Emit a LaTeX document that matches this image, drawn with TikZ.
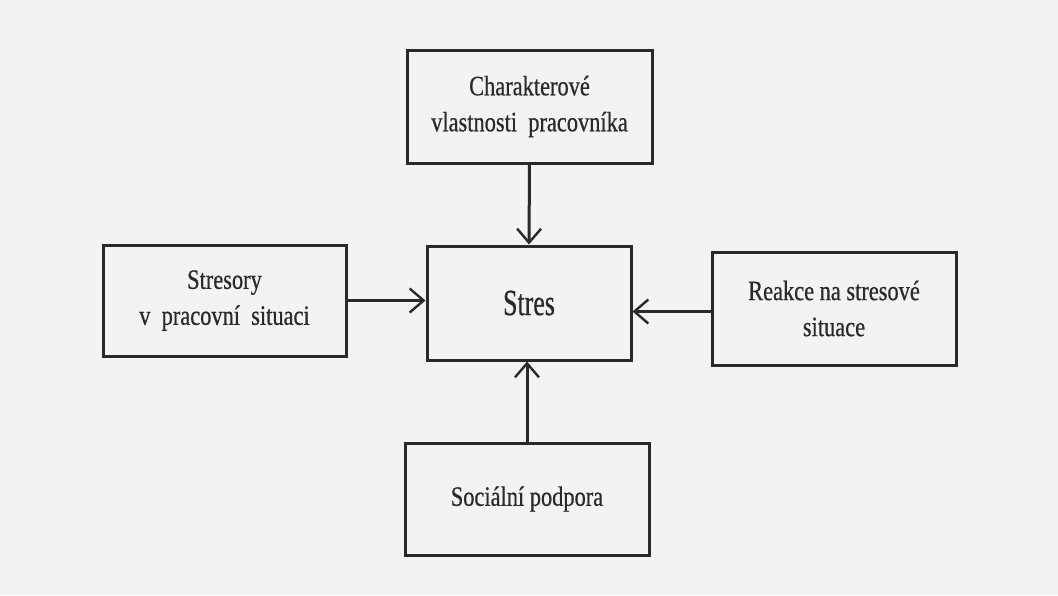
\documentclass[tikz,border=0pt]{standalone}
\usepackage{fontspec}
\setmainfont{Liberation Serif}
\newfontfamily\boxfont[FakeStretch=0.8,FakeBold=0.6]{Liberation Serif}
\newfontfamily\bigfont[FakeStretch=0.7,FakeBold=0.6]{Liberation Serif}
\usetikzlibrary{arrows.meta}
\definecolor{ink}{HTML}{2A2A2A}
\definecolor{paper}{HTML}{F3F3F3}
\tikzset{
  box/.style={draw=ink, line width=3pt, rectangle, align=center, text=ink,
    font={\boxfont\fontsize{28}{36}\selectfont}},
  conn/.style={draw=ink, line width=3pt,
    -{Straight Barb[length=14pt, width=24pt, line width=2.4pt]}}
}
\begin{document}
\begin{tikzpicture}[x=1pt,y=-1pt]
\useasboundingbox[fill=paper] (0,0) rectangle (1058,595);
\node[box, minimum width=245pt, minimum height=113pt] (top) at (529.5,106.5)
  {Charakterové\\vlastnosti\ \ pracovníka};
\node[box, minimum width=204pt, minimum height=114pt,
  font={\bigfont\fontsize{37}{40}\selectfont}] (stres) at (529,303) {Stres};
\node[box, minimum width=243pt, minimum height=111pt] (left) at (224.5,300.5)
  {Stresory\\v\ \ pracovní\ \ situaci};
\node[box, minimum width=244pt, minimum height=113pt] (right) at (834,308.5)
  {Reakce na stresové\\situace};
\node[box, minimum width=244pt, minimum height=112pt] (bottom) at (527,499)
  {Sociální podpora};
\draw[conn] (top.south) -- (stres.north);
\draw[conn] (left.east) -- (left.east -| stres.west);
\draw[conn] ([yshift=-3pt]right.west) -- ([yshift=-3pt]right.west -| stres.east);
\draw[conn] (bottom.north) -- (bottom.north |- stres.south);
\end{tikzpicture}
\end{document}
